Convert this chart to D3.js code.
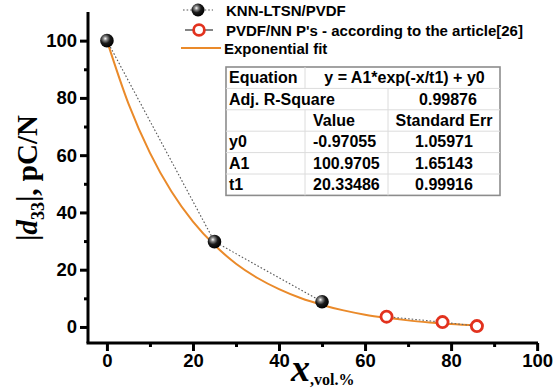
<!DOCTYPE html>
<html>
<head>
<meta charset="utf-8">
<script src="https://cdn.jsdelivr.net/npm/d3@7"></script>
<style>
html,body{margin:0;padding:0;background:#fff;}
svg{display:block;}
</style>
</head>
<body>
<svg id="chart" width="553" height="389"></svg>
<script>
// ---- data ----
const knnX = [0, 25, 50];
const knnY = [100, 29.8, 8.8];
const pvdfX = [65, 78, 86];
const pvdfY = [3.6, 1.7, 0.3];
const fitX = [0, 5, 10, 15, 20, 25, 30, 35, 40, 45, 50, 55, 60, 65, 70, 75, 80, 86];
const fitY = [100, 78.0, 60.8, 47.3, 36.8, 28.6, 22.1, 17.1, 13.2, 10.1, 7.7, 5.8, 4.3, 3.2, 2.3, 1.6, 1.0, 0.5];
const xTicks = [0, 20, 40, 60, 80, 100];
const xMinor = [10, 30, 50, 70, 90];
const yTicks = [0, 20, 40, 60, 80, 100];
const yMinor = [10, 30, 50, 70, 90];
const legendLabels = ["KNN-LTSN/PVDF", "PVDF/NN P's - according to the article[26]", "Exponential fit"];
const tableRows = [
  ["Equation", "y = A1*exp(-x/t1) + y0"],
  ["Adj. R-Square", "0.99876"],
  ["", "Value", "Standard Err"],
  ["y0", "-0.97055", "1.05971"],
  ["A1", "100.9705", "1.65143"],
  ["t1", "20.33486", "0.99916"]
];

const svg = d3.select("#chart");
const x = d3.scaleLinear().domain([-4.4, 100.2]).range([88, 538]);
const y = d3.scaleLinear().domain([-5.6, 110]).range([343, 12]);

const defs = svg.append("defs");
const g = defs.append("radialGradient").attr("id", "ball").attr("cx", "38%").attr("cy", "35%").attr("r", "65%");
g.append("stop").attr("offset", "0%").attr("stop-color", "#ffffff");
g.append("stop").attr("offset", "22%").attr("stop-color", "#8a8a8a");
g.append("stop").attr("offset", "55%").attr("stop-color", "#1a1a1a");
g.append("stop").attr("offset", "100%").attr("stop-color", "#000");

// axes
const tickFont = "bold 18.5px 'Liberation Sans', Arial, sans-serif";
const xAxis = svg.append("g").attr("transform", "translate(0,343)")
  .call(d3.axisBottom(x).tickValues(xTicks).tickSizeInner(8).tickSizeOuter(0).tickPadding(3));
const xAxisMinor = svg.append("g").attr("transform", "translate(0,343)")
  .call(d3.axisBottom(x).tickValues(xMinor).tickSize(4).tickFormat(""));
const yAxis = svg.append("g").attr("transform", "translate(88,0)")
  .call(d3.axisLeft(y).tickValues(yTicks).tickSizeInner(8).tickSizeOuter(0).tickPadding(3));
const yAxisMinor = svg.append("g").attr("transform", "translate(88,0)")
  .call(d3.axisLeft(y).tickValues(yMinor).tickSize(4).tickFormat(""));
[xAxis, xAxisMinor, yAxis, yAxisMinor].forEach(a => {
  a.selectAll("path.domain").attr("stroke", "#000").attr("stroke-width", 3);
  a.selectAll(".tick line").attr("stroke", "#000").attr("stroke-width", 3);
  a.selectAll(".tick text").style("font", tickFont).attr("fill", "#000");
});
xAxisMinor.select("path.domain").remove();
yAxisMinor.select("path.domain").remove();
xAxis.select("path.domain").attr("d", `M${x(-4.4) - 1.5},0H${x(100.2)}`);
yAxis.select("path.domain").attr("d", `M0,${y(-5.6)}V${y(110)}`);

// fit curve
const line = d3.line().x(d => x(d[0])).y(d => y(d[1]));
svg.append("path")
  .datum(fitX.map((v, i) => [v, fitY[i]]))
  .attr("d", line.curve(d3.curveMonotoneX))
  .attr("fill", "none").attr("stroke", "#ea8a2a").attr("stroke-width", 2);

// dotted connecting lines
const lin = d3.line().x(d => x(d[0])).y(d => y(d[1]));
svg.append("path").datum(knnX.map((v, i) => [v, knnY[i]]))
  .attr("d", lin).attr("fill", "none").attr("stroke", "#555").attr("stroke-width", 1.1).attr("stroke-dasharray", "1.6,2");
svg.append("path").datum(pvdfX.map((v, i) => [v, pvdfY[i]]))
  .attr("d", lin).attr("fill", "none").attr("stroke", "#666").attr("stroke-width", 1.1).attr("stroke-dasharray", "1.6,2");

// markers
svg.selectAll("circle.knn").data(knnX).enter().append("circle")
  .attr("class", "knn").attr("cx", d => x(d)).attr("cy", (d, i) => y(knnY[i]))
  .attr("r", 6.8).attr("fill", "url(#ball)");
svg.selectAll("circle.pvdf").data(pvdfX).enter().append("circle")
  .attr("class", "pvdf").attr("cx", d => x(d)).attr("cy", (d, i) => y(pvdfY[i]))
  .attr("r", 5.6).attr("fill", "#fff").attr("stroke", "#e2321e").attr("stroke-width", 2.8);

// legend
const legFont = "bold 15px 'Liberation Sans', Arial, sans-serif";
const lg = svg.append("g");
const ly = [10, 30, 48];
lg.append("line").attr("x1", 183).attr("x2", 213).attr("y1", ly[0]).attr("y2", ly[0])
  .attr("stroke", "#555").attr("stroke-width", 1.1).attr("stroke-dasharray", "1.6,2");
lg.append("circle").attr("cx", 198).attr("cy", ly[0]).attr("r", 6.5).attr("fill", "url(#ball)");
lg.append("line").attr("x1", 185).attr("x2", 213).attr("y1", ly[1]).attr("y2", ly[1])
  .attr("stroke", "#333").attr("stroke-width", 1.2);
lg.append("circle").attr("cx", 199).attr("cy", ly[1]).attr("r", 5.4).attr("fill", "#fff")
  .attr("stroke", "#e2321e").attr("stroke-width", 2.8);
lg.append("line").attr("x1", 181).attr("x2", 221).attr("y1", ly[2]).attr("y2", ly[2])
  .attr("stroke", "#ea8a2a").attr("stroke-width", 2);
lg.selectAll("text").data(legendLabels).enter().append("text")
  .attr("x", (d, i) => i === 2 ? 224 : 226).attr("y", (d, i) => ly[i] + 5.5)
  .style("font", legFont).attr("fill", "#000").text(d => d);

// table
const tb = svg.append("g");
const tL = 226, c1 = 305, c2 = 388, tR = 500, tT = 67, rh = 21.4;
const tFont = "bold 16px 'Liberation Sans', Arial, sans-serif";
tb.append("rect").attr("x", tL).attr("y", tT).attr("width", tR - tL).attr("height", rh * 6)
  .attr("fill", "#fff").attr("stroke", "#8c8c8c").attr("stroke-width", 1.6);
for (let r = 1; r < 6; r++) {
  tb.append("line").attr("x1", tL).attr("x2", tR).attr("y1", tT + r * rh).attr("y2", tT + r * rh)
    .attr("stroke", "#dcdcdc").attr("stroke-width", 1);
}
tb.append("line").attr("x1", c1).attr("x2", c1).attr("y1", tT).attr("y2", tT + rh).attr("stroke", "#dcdcdc");
tb.append("line").attr("x1", c2).attr("x2", c2).attr("y1", tT + rh).attr("y2", tT + 6 * rh).attr("stroke", "#dcdcdc");
tb.append("line").attr("x1", c1).attr("x2", c1).attr("y1", tT + 2 * rh).attr("y2", tT + 6 * rh).attr("stroke", "#dcdcdc");
tableRows.forEach((row, r) => {
  const yy = tT + r * rh + rh / 2 + 5.5;
  const t = (txt, xx, anchor) => tb.append("text").attr("x", xx).attr("y", yy)
    .attr("text-anchor", anchor).style("font", tFont).attr("fill", "#000").text(txt);
  if (r === 0) {
    t(row[0], tL + 3, "start");
    t(row[1], (c1 + tR) / 2 + 2, "middle");
  } else if (r === 1) {
    t(row[0], tL + 3, "start");
    t(row[1], (c2 + tR) / 2 + 4, "middle");
  } else {
    t(row[0], tL + 3, "start");
    t(row[1], c1 + 8, "start");
    t(row[2], (c2 + tR) / 2, "middle");
  }
});

// y axis label
const yl = svg.append("text").attr("transform", "translate(37,178) rotate(-90)")
  .attr("text-anchor", "middle")
  .style("font", "bold 29px 'Liberation Serif', 'Times New Roman', serif").attr("fill", "#000");
yl.append("tspan").text("|");
yl.append("tspan").style("font-style", "italic").text("d");
yl.append("tspan").attr("dy", 7).style("font-size", "18px").text("33");
yl.append("tspan").attr("dy", -7).text("|, pC/N");

// x axis label
const xl = svg.append("text").attr("x", 291).attr("y", 381)
  .style("font", "bold italic 38px 'Liberation Serif', 'Times New Roman', serif").attr("fill", "#000");
xl.append("tspan").text("x");
xl.append("tspan").attr("dy", 4).style("font-style", "normal").style("font-size", "16px").text(",vol.%");
</script>
</body>
</html>
